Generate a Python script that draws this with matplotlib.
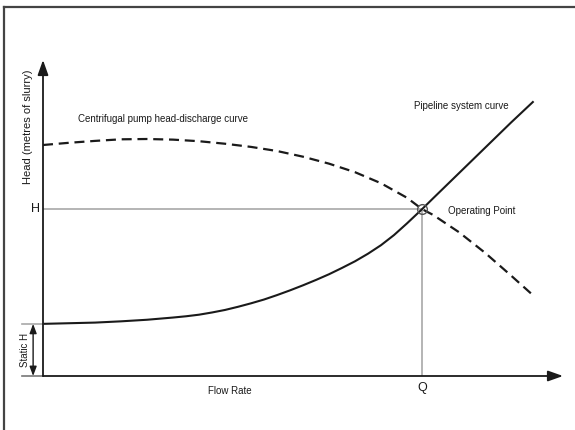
import matplotlib
matplotlib.use("Agg")
import matplotlib.pyplot as plt
from matplotlib.lines import Line2D

plt.rcParams['font.family'] = ['Liberation Sans', 'DejaVu Sans']

# Flow rate (arbitrary units) and head values
pump_flow = [0, 0.5, 1.0, 1.5, 2.0, 2.5, 3.0, 3.5, 4.0, 4.5, 5.0, 5.5, 6.0, 6.5,
             7.0, 7.29, 7.5, 8.0, 8.5, 9.0, 9.42]
pump_head = [7.31, 7.38, 7.44, 7.49, 7.50, 7.48, 7.43, 7.35, 7.25, 7.12, 6.94,
             6.72, 6.45, 6.10, 5.64, 5.28, 5.10, 4.55, 3.90, 3.18, 2.56]

sys_flow = [0, 0.5, 1.0, 1.5, 2.0, 2.5, 2.75, 3.0, 3.25, 3.5, 3.75, 4.0, 4.25,
            4.5, 4.75, 5.0, 5.25, 5.5, 5.75, 6.0, 6.25, 6.5, 6.75, 7.0, 7.29,
            7.5, 8.0, 8.5, 9.0, 9.42]
sys_head = [1.65, 1.67, 1.69, 1.73, 1.78, 1.85, 1.89, 1.94, 2.01, 2.09, 2.19,
            2.30, 2.42, 2.56, 2.71, 2.87, 3.04, 3.22, 3.42, 3.63, 3.87, 4.14,
            4.46, 4.83, 5.28, 5.62, 6.42, 7.22, 8.02, 8.67]

static_h = 1.65
q_op = 7.29
h_op = 5.28

W, H = 575, 430
fig = plt.figure(figsize=(W / 100, H / 100), dpi=100)

# outer frame (only top and left edges visible)
fig.add_artist(Line2D([3.5 / W, 3.5 / W], [0, 1 - 7 / H], color='#444444', lw=1.6))
fig.add_artist(Line2D([3.5 / W, 1], [1 - 7 / H, 1 - 7 / H], color='#444444', lw=1.6))

ax = fig.add_axes([43 / W, (H - 376) / H, (563 - 43) / W, (376 - 60) / H])
ax.set_xlim(0, 10)
ax.set_ylim(0, 10)
ax.axis('off')

ink = '#1a1a1a'
grey = '#a8a8a8'

# axes with arrow heads
arrow = dict(arrowstyle='-|>,head_length=0.9,head_width=0.32', color=ink,
             lw=1.3, mutation_scale=10, shrinkA=0, shrinkB=0)
ax.annotate('', xy=(0, 1), xytext=(0, 0), xycoords='axes fraction', arrowprops=arrow)
ax.annotate('', xy=(1, 0), xytext=(0, 0), xycoords='axes fraction', arrowprops=arrow)

# curves
ax.plot(pump_flow, pump_head, color=ink, lw=1.6, dashes=(4.5, 2.6))
ax.plot(sys_flow, sys_head, color=ink, lw=1.5)

# operating point guide lines
ax.plot([0, q_op], [h_op, h_op], color=grey, lw=1.2, zorder=1)
ax.plot([q_op, q_op], [0, h_op], color=grey, lw=1.2, zorder=1)
ax.plot([q_op], [h_op], marker='o', ms=7, mfc='none', mec='#555555', mew=1.0)

# static head ticks and double arrow
ax.plot([-0.4, 0], [static_h, static_h], color=grey, lw=1.2, clip_on=False)
ax.plot([-0.4, 0], [0, 0], color='#777777', lw=1.2, clip_on=False)
ax.annotate('', xy=(-0.19, 0), xytext=(-0.19, static_h), xycoords='data',
            annotation_clip=False,
            arrowprops=dict(arrowstyle='<|-|>,head_length=0.8,head_width=0.3',
                            color=ink, lw=1.0, mutation_scale=7,
                            shrinkA=0, shrinkB=0))

# labels
txt = dict(color=ink, fontsize=7)
ax.text(0.67, 8.14, 'Centrifugal pump head-discharge curve', ha='left', va='center', **txt)
ax.text(7.14, 8.54, 'Pipeline system curve', ha='left', va='center', **txt)
ax.annotate('Operating Point', xy=(q_op, h_op), xytext=(26, -2),
            textcoords='offset pixels', ha='left', va='center', **txt)
ax.annotate('H', xy=(0, h_op), xytext=(-8, 0), textcoords='offset pixels',
            ha='center', va='center', color=ink, fontsize=9, annotation_clip=False)
ax.annotate('Q', xy=(q_op, 0), xytext=(0, -12), textcoords='offset pixels',
            ha='center', va='center', color=ink, fontsize=9, annotation_clip=False)
ax.annotate('Flow Rate', xy=(3.6, 0), xytext=(0, -15), textcoords='offset pixels',
            ha='center', va='center', annotation_clip=False, **txt)
ax.annotate('Head (metres of slurry)', xy=(0, 7.9), xytext=(-15, 0),
            textcoords='offset pixels', ha='center', va='center', rotation=90,
            annotation_clip=False, color=ink, fontsize=8)
ax.annotate('Static H', xy=(0, static_h / 2), xytext=(-18, 0),
            textcoords='offset pixels', ha='center', va='center', rotation=90,
            annotation_clip=False, **txt)

fig.savefig('out.png', dpi=100)
